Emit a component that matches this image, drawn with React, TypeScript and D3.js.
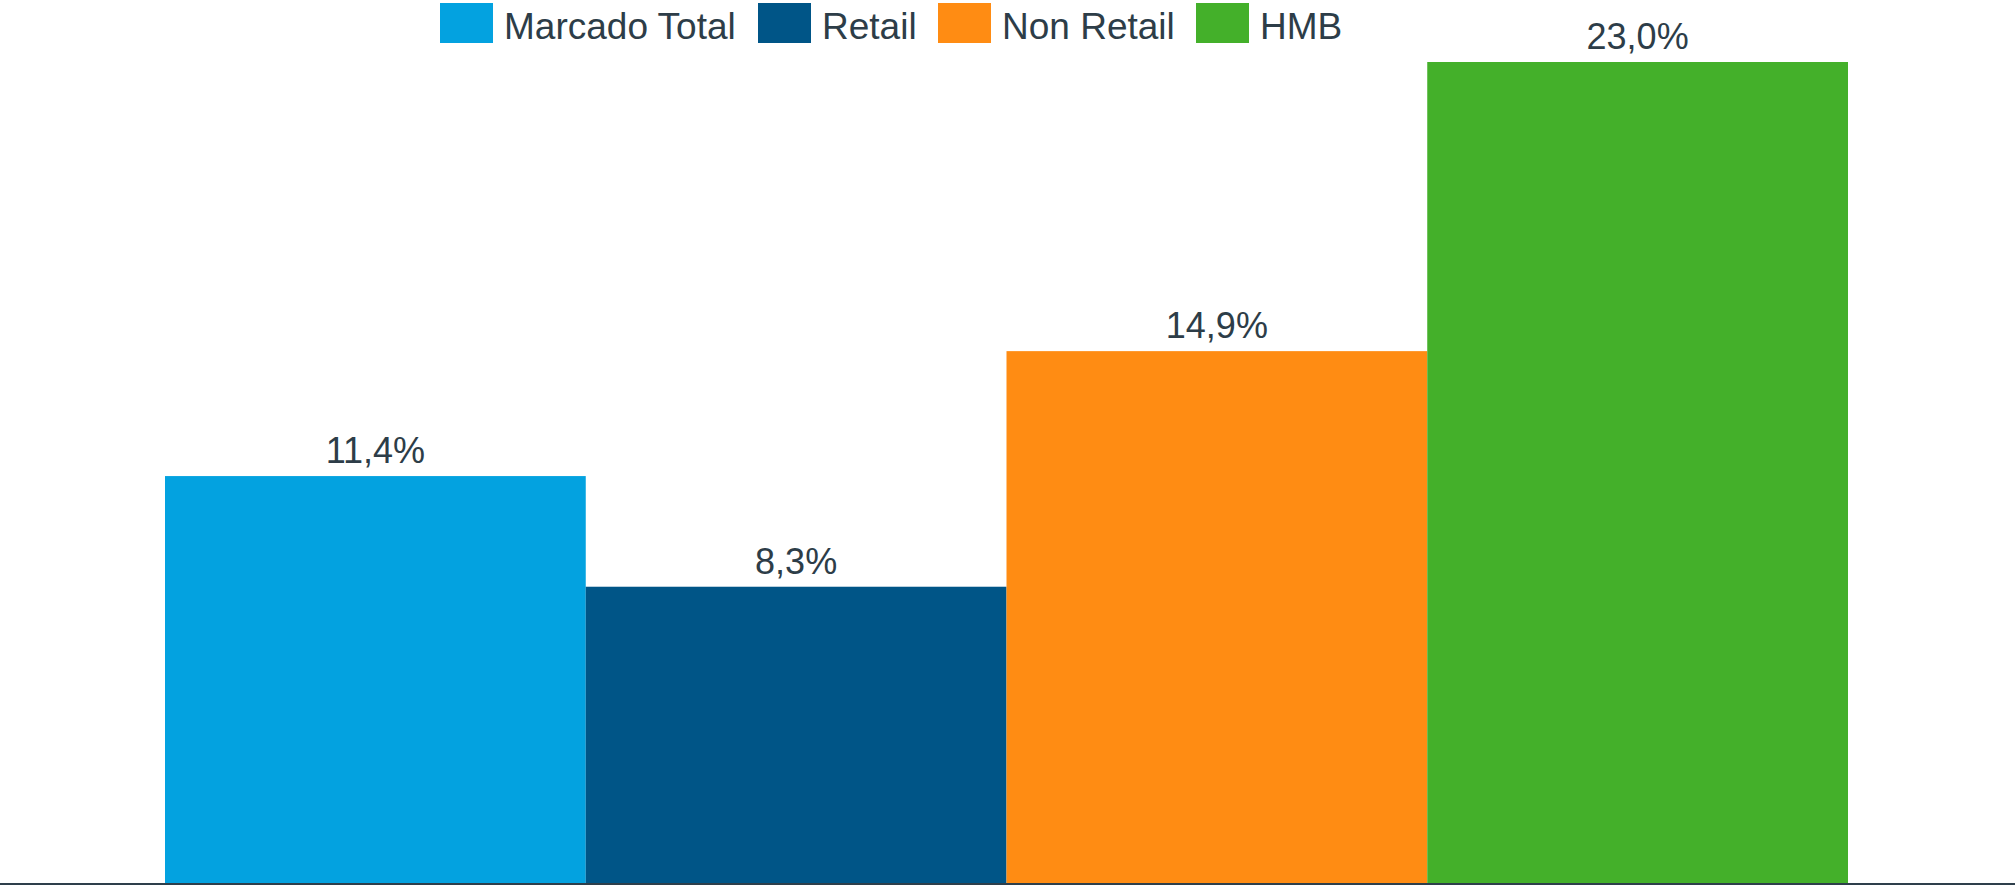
import React from "react";
import * as d3 from "d3";

const series = ["Marcado Total", "Retail", "Non Retail", "HMB"];
const values = [11.4, 8.3, 14.9, 23.0];
const colors = ["#03a2e0", "#005587", "#ff8c13", "#44b02a"];

const W = 2015;
const H = 885;
const textColor = "#2d3d48";
const font = "'Liberation Sans', Arial, sans-serif";

export default function App() {
  const x = d3.scaleBand<string>().domain(series).range([165, 1848]).padding(0);
  const y = d3.scaleLinear().domain([0, 23]).range([883, 62]);
  const fmt = (v: number) => v.toFixed(1).replace(".", ",") + "%";

  // legend layout: measured positions of swatches
  const legendX = [440, 758, 938, 1196];

  return (
    <svg
      width={W}
      height={H}
      style={{ position: "absolute", left: 0, top: 0, display: "block", background: "#fff" }}
      fontFamily={font}
    >
      {series.map((s, i) => (
        <g key={s}>
          <rect x={x(s)} y={y(values[i])} width={x.bandwidth()} height={y(0) - y(values[i])} fill={colors[i]} />
          <text
            x={(x(s) as number) + x.bandwidth() / 2}
            y={y(values[i]) - 13}
            textAnchor="middle"
            fontSize={36}
            fill={textColor}
          >
            {fmt(values[i])}
          </text>
        </g>
      ))}
      <line x1={0} x2={W} y1={884} y2={884} stroke="#2e3f4b" strokeWidth={2} />
      {series.map((s, i) => (
        <g key={"lg" + s} transform={`translate(${legendX[i]},3)`}>
          <rect width={53} height={40} fill={colors[i]} />
          <text x={64} y={36} fontSize={37} fill={textColor}>
            {s}
          </text>
        </g>
      ))}
    </svg>
  );
}
